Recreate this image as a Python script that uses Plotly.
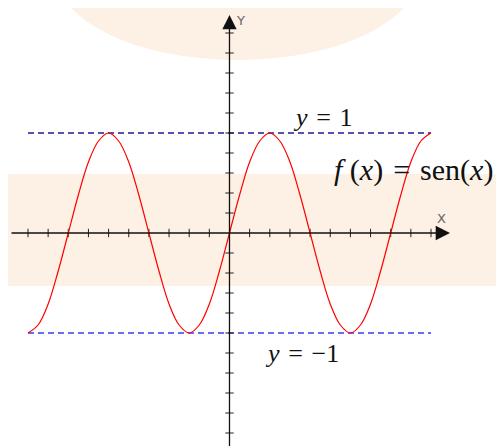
import numpy as np
import plotly.graph_objects as go

# curve samples at every eighth of pi
x_eighths = list(range(-20, 21))
y_values = [-1, -0.92, -0.71, -0.38, 0, 0.38, 0.71, 0.92,
            1, 0.92, 0.71, 0.38, 0, -0.38, -0.71, -0.92,
            -1, -0.92, -0.71, -0.38, 0, 0.38, 0.71, 0.92,
            1, 0.92, 0.71, 0.38, 0, -0.38, -0.71, -0.92,
            -1, -0.92, -0.71, -0.38, 0, 0.38, 0.71, 0.92, 1]

# tick marks on both axes
x_tick_quarters = [q for q in range(-10, 11) if q != 0]
y_ticks = [round(v * 0.2, 1) for v in range(-10, 11) if v != 0]

# horizontal guide lines
guide_levels = [1, -1]
guide_colors = ['#1c1c96', '#3c3cf0']

x_data = [k * np.pi / 8 for k in x_eighths]
x_ticks = [q * np.pi / 4 for q in x_tick_quarters]

fig = go.Figure()

# dashed guide lines y=1 and y=-1
for level, col in zip(guide_levels, guide_colors):
    fig.add_trace(go.Scatter(x=[x_data[0], x_data[-1]], y=[level, level], mode='lines',
                             line=dict(color=col, width=1.3, dash='6px,4px'),
                             hoverinfo='skip'))

# tick marks
fig.add_trace(go.Scatter(x=x_ticks, y=[0] * len(x_ticks), mode='markers',
                         marker=dict(symbol='line-ns', size=6,
                                     line=dict(color='#222222', width=1)),
                         hoverinfo='skip'))
fig.add_trace(go.Scatter(x=[0] * len(y_ticks), y=y_ticks, mode='markers',
                         marker=dict(symbol='line-ew', size=6,
                                     line=dict(color='#222222', width=1)),
                         hoverinfo='skip'))

# sine curve
fig.add_trace(go.Scatter(x=x_data, y=y_values, mode='lines',
                         line=dict(color='#ff0000', width=1.2, shape='spline'),
                         hoverinfo='skip'))

# axes with arrow heads
fig.add_annotation(x=8.594, y=0, ax=-8.556, ay=0, xref='x', yref='y', axref='x', ayref='y',
                   showarrow=True, arrowhead=2, arrowsize=2.2, arrowwidth=1.3,
                   arrowcolor='#111111', text='', standoff=0)
fig.add_annotation(x=0, y=2.18, ax=0, ay=-2.3, xref='x', yref='y', axref='x', ayref='y',
                   showarrow=True, arrowhead=2, arrowsize=2.2, arrowwidth=1.3,
                   arrowcolor='#111111', text='', standoff=0)

small = dict(family='DejaVu Sans', size=13, color='#666666')
fig.add_annotation(x=8.25, y=0.15, text='X', showarrow=False, font=small)
fig.add_annotation(x=0.42, y=2.13, text='Y', showarrow=False, font=small)

serif = dict(family='Liberation Serif', size=26, color='#111111')
fig.add_annotation(x=2.4, y=0.99, text='<i>y</i>\u2004=\u20041', showarrow=False, font=serif,
                   xanchor='left', yanchor='bottom')
fig.add_annotation(x=4.0, y=0.44, text='<i>f</i> (<i>x</i>)\u2004=\u2004sen(<i>x</i>)',
                   showarrow=False,
                   font=dict(family='Liberation Serif', size=30, color='#111111'),
                   xanchor='left', yanchor='bottom')
fig.add_annotation(x=1.3, y=-1.04, text='<i>y</i>\u2004=\u2004−1', showarrow=False, font=serif,
                   xanchor='left', yanchor='top')

# pale background decoration (page body adds an 8px offset)
peach = '#fdf0e4'
fig.add_shape(type='circle', xref='paper', yref='paper', x0=0.0962, x1=0.8145,
              y0=0.8834, y1=1.2713, fillcolor=peach, line_width=0, layer='below')
fig.add_shape(type='rect', xref='paper', yref='paper', x0=0, x1=1,
              y0=0.3767, y1=0.6278, fillcolor=peach, line_width=0, layer='below')

fig.update_layout(
    width=504, height=446,
    margin=dict(l=0, r=0, t=0, b=0),
    showlegend=False,
    paper_bgcolor='white',
    plot_bgcolor='rgba(0,0,0,0)',
    xaxis=dict(range=[-8.633, 11.011], visible=False),
    yaxis=dict(range=[-2.21, 2.25], visible=False),
)

fig.write_html("out.html")
